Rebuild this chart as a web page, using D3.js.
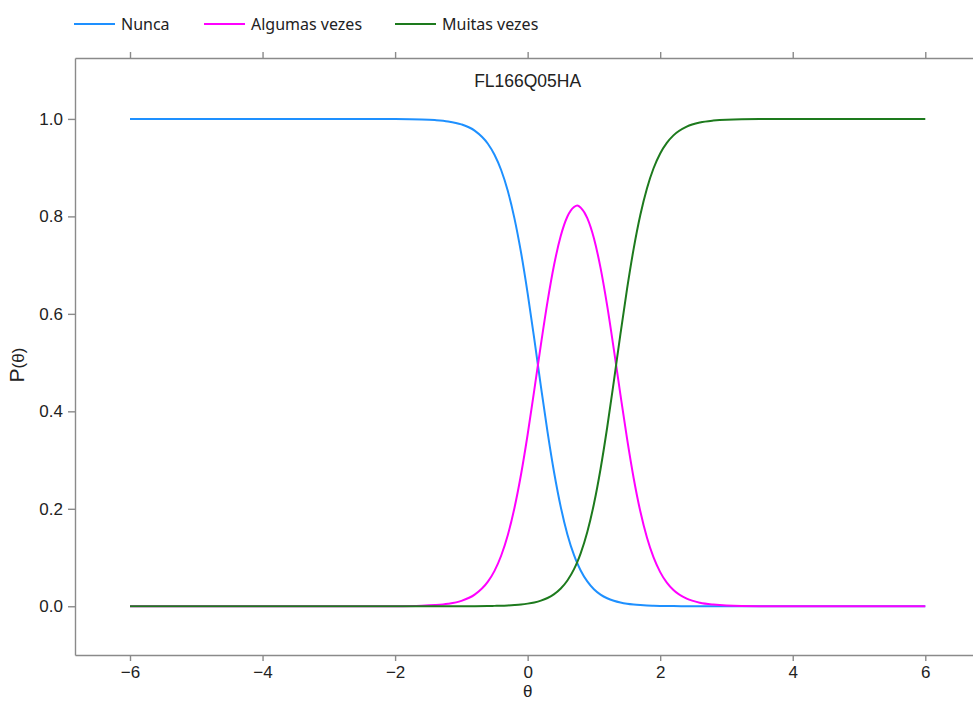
<!DOCTYPE html>
<html>
<head>
<meta charset="utf-8">
<script src="https://cdn.jsdelivr.net/npm/d3@7"></script>
<style>
  body { margin: 0; background: #fff; }
  .axis path, .axis line { stroke: #8a8a8a; stroke-width: 1.4px; }
  .axis text { font-family: "Liberation Sans", Arial, sans-serif; font-size: 17px; fill: #222; }
  .legend text { font-family: "Noto Sans", sans-serif; font-size: 16px; fill: #222; }
</style>
</head>
<body>
<div class="container"></div>
<script>
// item response curves
const theta = [-6, -5, -4, -3, -2.5, -2, -1.6, -1.4, -1.2, -1.0, -0.8, -0.6, -0.5, -0.4, -0.3, -0.2, -0.1, 0, 0.1, 0.2, 0.3, 0.4, 0.5, 0.6, 0.7, 0.75, 0.8, 0.9, 1.0, 1.1, 1.2, 1.3, 1.4, 1.5, 1.6, 1.7, 1.8, 1.9, 2.0, 2.1, 2.2, 2.4, 2.6, 2.8, 3.0, 3.5, 4, 5, 6];
const nunca = [1, 1, 1, 1, 1, 0.9998, 0.9989, 0.9976, 0.9949, 0.9888, 0.976, 0.949, 0.9265, 0.8952, 0.8526, 0.7965, 0.7261, 0.6422, 0.5486, 0.4514, 0.3578, 0.2739, 0.2035, 0.1474, 0.1048, 0.0878, 0.0735, 0.051, 0.035, 0.024, 0.0164, 0.0112, 0.0076, 0.0051, 0.0035, 0.0024, 0.0016, 0.0011, 0.0007, 0.0005, 0.0003, 0.0002, 0.0001, 0, 0, 0, 0, 0, 0];
const algumas = [0, 0, 0, 0, 0, 0.0002, 0.0011, 0.0024, 0.0051, 0.011, 0.0238, 0.0505, 0.0727, 0.1037, 0.1457, 0.201, 0.2703, 0.3524, 0.4435, 0.537, 0.6252, 0.7012, 0.7601, 0.7997, 0.8191, 0.8225, 0.818, 0.7966, 0.7552, 0.6943, 0.6168, 0.5277, 0.4342, 0.3438, 0.2627, 0.1948, 0.141, 0.1001, 0.0701, 0.0486, 0.0334, 0.0156, 0.0072, 0.0034, 0.0015, 0.0002, 0, 0, 0];
const muitas = [0, 0, 0, 0, 0, 0, 0, 0, 0, 0.0001, 0.0002, 0.0005, 0.0008, 0.0011, 0.0017, 0.0025, 0.0036, 0.0054, 0.0079, 0.0116, 0.017, 0.0249, 0.0364, 0.0529, 0.0761, 0.091, 0.1085, 0.1524, 0.2098, 0.2817, 0.3668, 0.4611, 0.5582, 0.6511, 0.7338, 0.8028, 0.8574, 0.8988, 0.9292, 0.9509, 0.9663, 0.9842, 0.9927, 0.9966, 0.9985, 0.9998, 1, 1, 1];

const seriesNames = ['Nunca', 'Algumas vezes', 'Muitas vezes'];
const seriesColors = ['#1e90ff', '#ff00ff', '#1d7a1d'];
const xTicks = [-6, -4, -2, 0, 2, 4, 6];
const yTicks = [0, 0.2, 0.4, 0.6, 0.8, 1.0];
const title = 'FL166Q05HA';

const width = 973, height = 702;
const plotLeft = 75, plotRight = 973, plotTop = 58, plotBottom = 655;

const svg = d3.select('.container').append('svg')
    .attr('width', width)
    .attr('height', height);

const x = d3.scaleLinear().domain([-6.83, 6.72]).range([plotLeft, plotRight]);
const y = d3.scaleLinear().domain([-0.1, 1.125]).range([plotBottom, plotTop]);

// axes
svg.append('g')
    .attr('class', 'axis')
    .attr('transform', `translate(0,${plotBottom})`)
    .call(d3.axisBottom(x).tickValues(xTicks).tickFormat(d3.format('d')).tickSize(6).tickSizeOuter(0).tickPadding(5));

svg.append('g')
    .attr('class', 'axis')
    .attr('transform', `translate(0,${plotTop})`)
    .call(d3.axisTop(x).tickValues(xTicks).tickFormat('').tickSize(6).tickSizeOuter(0));

svg.append('g')
    .attr('class', 'axis')
    .attr('transform', `translate(${plotLeft},0)`)
    .call(d3.axisLeft(y).tickValues(yTicks).tickFormat(d3.format('.1f')).tickSize(7).tickSizeOuter(0).tickPadding(5));

// curves
const series = [nunca, algumas, muitas];
const line = d3.line()
    .x(d => x(d[0]))
    .y(d => y(d[1]))
    .curve(d3.curveMonotoneX);

series.forEach((values, i) => {
    svg.append('path')
        .datum(theta.map((t, j) => [t, values[j]]))
        .attr('fill', 'none')
        .attr('stroke', seriesColors[i])
        .attr('stroke-width', 2)
        .attr('d', line);
});

// title and labels
svg.append('text')
    .attr('x', x(0))
    .attr('y', 87)
    .attr('text-anchor', 'middle')
    .style('font-family', '"Liberation Sans", Arial, sans-serif')
    .style('font-size', '17.5px')
    .attr('fill', '#222')
    .text(title);

svg.append('text')
    .attr('x', x(0))
    .attr('y', 697)
    .attr('text-anchor', 'middle')
    .style('font-family', '"Liberation Sans", Arial, sans-serif')
    .style('font-size', '17px')
    .attr('fill', '#222')
    .text('θ');

const yLabel = svg.append('text')
    .attr('transform', 'translate(24,365) rotate(-90)')
    .attr('text-anchor', 'middle')
    .style('font-family', '"Liberation Sans", Arial, sans-serif')
    .attr('fill', '#222');
yLabel.append('tspan').style('font-size', '21px').text('P');
yLabel.append('tspan').style('font-size', '17px').text('(θ)');

// legend
const legendX = [74, 204, 395];
const legend = svg.append('g').attr('class', 'legend');
seriesNames.forEach((name, i) => {
    legend.append('line')
        .attr('x1', legendX[i]).attr('x2', legendX[i] + 41)
        .attr('y1', 24).attr('y2', 24)
        .attr('stroke', seriesColors[i])
        .attr('stroke-width', 2);
    legend.append('text')
        .attr('x', legendX[i] + 47)
        .attr('y', 30)
        .text(name);
});
</script>
</body>
</html>
